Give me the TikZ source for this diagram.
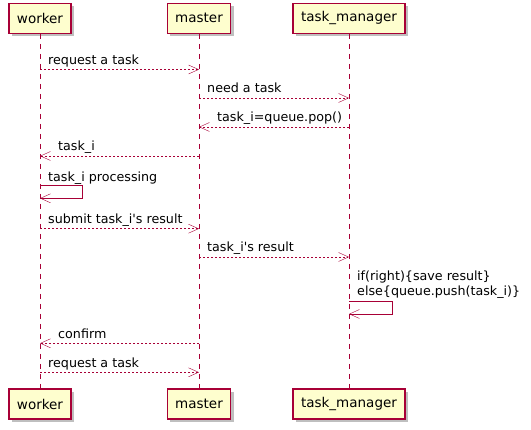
\documentclass[tikz,border=0pt]{standalone}
\usepackage{fontspec}
\setmainfont{DejaVu Sans}
\usetikzlibrary{arrows.meta,shadows}
\definecolor{umlred}{HTML}{A80036}
\definecolor{umlyellow}{HTML}{FEFECE}

\begin{document}
\begin{tikzpicture}
    [x=1pt, y=-1pt,
    part/.style={draw=umlred, fill=umlyellow, line width=1.2pt, minimum height=30pt,
        inner xsep=8pt, font=\fontsize{13.5}{16}\selectfont,
        drop shadow={shadow xshift=3pt, shadow yshift=-3pt, fill=black, opacity=0.25}},
    life/.style={umlred, dash pattern=on 5pt off 5pt},
    msg/.style={umlred, dash pattern=on 2pt off 2pt, -{Straight Barb[length=10pt,width=9pt]}},
    selfmsg/.style={umlred, -{Straight Barb[length=10pt,width=9pt]}},
    lbl/.style={anchor=base west, inner sep=0pt, yshift=5pt, text=black,
        font=\fontsize{12.7}{15}\selectfont}]
    \useasboundingbox (0,0) rectangle (531,430);
    % participants
    \node[part] (worker) at (40,18.3) {worker};
    \node[part] (master) at (199,18.3) {master};
    \node[part] (taskman) at (349,18.3) {task\_manager};
    \node[part] (workerb) at (40,404) {worker};
    \node[part] (masterb) at (199,404) {master};
    \node[part] (taskmanb) at (349,404) {task\_manager};
    % lifelines
    \draw[life] (worker) -- (workerb);
    \draw[life] (master) -- (masterb);
    \draw[life] (taskman) -- (taskmanb);
    % message rows
    \coordinate (r1) at (0,69.5);
    \coordinate (r2) at (0,98);
    \coordinate (r3) at (0,127);
    \coordinate (r4) at (0,156);
    \coordinate (r5) at (0,185.3);
    \coordinate (r6) at (0,228.7);
    \coordinate (r7) at (0,257);
    \coordinate (r8) at (0,301.3);
    \coordinate (r9) at (0,343.3);
    \coordinate (r10) at (0,372.3);
    % messages
    \draw[msg] (worker |- r1) -- (master |- r1)
    node[lbl, pos=0, xshift=8pt] (l1) {request a task};
    \draw[msg] (master |- r2) -- (taskman |- r2)
    node[lbl, pos=0, xshift=8pt] (l2) {need a task};
    \draw[msg] (taskman |- r3) -- (master |- r3)
    node[lbl, pos=1, xshift=18pt] (l3) {task\_i=queue.pop()};
    \draw[msg] (master |- r4) -- (worker |- r4)
    node[lbl, pos=1, xshift=18pt] (l4) {task\_i};
    % self message of worker
    \draw[selfmsg] (worker |- r5) -- ++(42,0) -- ++(0,13) -- ++(-42,0);
    \node[lbl, yshift=-1pt, xshift=8pt] (l5) at (worker |- r5) {task\_i processing};
    \draw[msg] (worker |- r6) -- (master |- r6)
    node[lbl, pos=0, xshift=8pt] (l6) {submit task\_i\textquotesingle s result};
    \draw[msg] (master |- r7) -- (taskman |- r7)
    node[lbl, pos=0, xshift=8pt] (l7) {task\_i\textquotesingle s result};
    % self message of task_manager
    \draw[selfmsg] (taskman |- r8) -- ++(42.7,0) -- ++(0,12.7) -- ++(-42.7,0);
    \node[lbl, anchor=south west, align=left, yshift=-2.5pt, xshift=8pt] (l8) at (taskman |- r8)
    {if(right)\{save result\}\\else\{queue.push(task\_i)\}};
    \draw[msg] (master |- r9) -- (worker |- r9)
    node[lbl, pos=1, xshift=18pt] (l9) {confirm};
    \draw[msg] (worker |- r10) -- (master |- r10)
    node[lbl, pos=0, xshift=8pt] (l10) {request a task};
\end{tikzpicture}
\end{document}
